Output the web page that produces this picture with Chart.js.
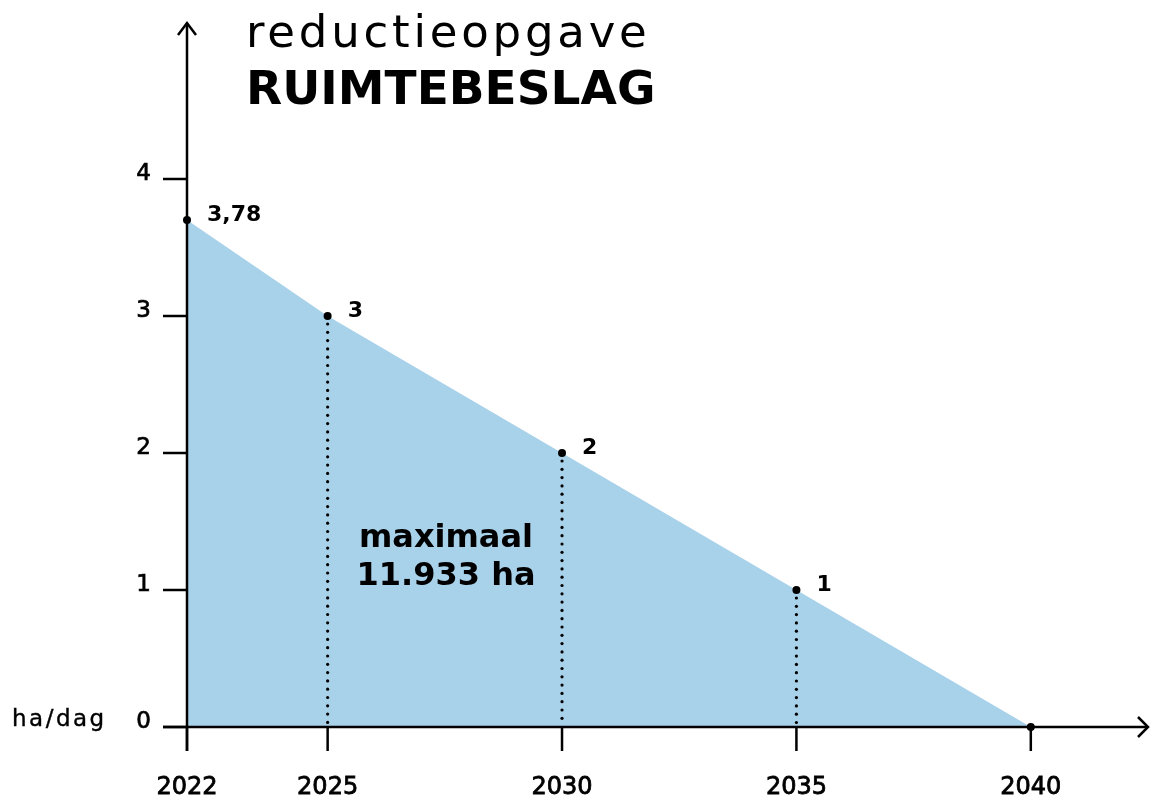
<!DOCTYPE html>
<html><head><meta charset="utf-8">
<script src="https://cdn.jsdelivr.net/npm/chart.js@4/dist/chart.umd.min.js"></script>
<style>html,body{margin:0;padding:0;background:#fff}#wrap{width:1153px;height:800px;position:relative}</style>
</head><body><div id="wrap"><canvas id="c" width="1153" height="800"></canvas></div>
<script>
const years = [2022, 2025, 2030, 2035, 2040];
const values = [3.7, 3, 2, 1, 0];
const pointLabels = ["3,78", "3", "2", "1", ""];
const xTickLabels = ["2022", "2025", "2030", "2035", "2040"];
const yTicks = [0, 1, 2, 3, 4];
const dottedYears = [2025, 2030, 2035];
const titleLine1 = "reductieopgave";
const titleLine2 = "RUIMTEBESLAG";
const yUnit = "ha/dag";
const noteLines = ["maximaal", "11.933 ha"];

const FONT = '"DejaVu Sans", sans-serif';

function txt(ctx, s, x, y, embolden) {
  ctx.fillText(s, x, y);
  if (embolden) { ctx.lineWidth = embolden; ctx.strokeText(s, x, y); }
}

const overlay = {
  id: 'overlay',
  afterDatasetsDraw(chart) {
    const ctx = chart.ctx, x = chart.scales.x, y = chart.scales.y;
    const x0 = x.getPixelForValue(2022), y0 = y.getPixelForValue(0);
    const top = chart.chartArea.top, right = chart.chartArea.right;
    ctx.save();
    ctx.fillStyle = '#000';
    // dotted verticals
    dottedYears.forEach(yr => {
      const i = years.indexOf(yr);
      const px = x.getPixelForValue(yr);
      const ptop = y.getPixelForValue(values[i]);
      for (let py = ptop + 8; py < y0 - 3; py += 8.3) {
        ctx.beginPath(); ctx.arc(px, py, 1.6, 0, Math.PI * 2); ctx.fill();
      }
    });
    ctx.strokeStyle = '#000'; ctx.lineWidth = 2.5; ctx.lineCap = 'butt';
    // y axis
    ctx.beginPath(); ctx.moveTo(x0, y0 + 24); ctx.lineTo(x0, top + 1); ctx.stroke();
    ctx.beginPath(); ctx.moveTo(x0 - 9, top + 13); ctx.lineTo(x0, top + 1); ctx.lineTo(x0 + 9, top + 13); ctx.stroke();
    // x axis
    ctx.beginPath(); ctx.moveTo(x0 - 24, y0); ctx.lineTo(right, y0); ctx.stroke();
    ctx.beginPath(); ctx.moveTo(right - 10, y0 - 10); ctx.lineTo(right, y0); ctx.lineTo(right - 10, y0 + 10); ctx.stroke();
    // y ticks
    yTicks.forEach(v => {
      const py = y.getPixelForValue(v);
      ctx.lineWidth = 2.5;
      ctx.beginPath(); ctx.moveTo(x0 - 24, py); ctx.lineTo(x0, py); ctx.stroke();
    });
    // x ticks
    years.forEach(yr => {
      const px = x.getPixelForValue(yr);
      ctx.lineWidth = 2.5;
      ctx.beginPath(); ctx.moveTo(px, y0); ctx.lineTo(px, y0 + 24); ctx.stroke();
    });
    // points
    const meta = chart.getDatasetMeta(0);
    meta.data.forEach(el => {
      ctx.beginPath(); ctx.arc(el.x, el.y, 4, 0, Math.PI * 2); ctx.fill();
    });
    // y tick labels
    ctx.font = '23px ' + FONT; ctx.textAlign = 'right'; ctx.textBaseline = 'middle';
    yTicks.forEach(v => {
      txt(ctx, String(v), x0 - 36, y.getPixelForValue(v) - 5, 0.7);
    });
    ctx.textAlign = 'left';
    ctx.letterSpacing = '2.5px';
    txt(ctx, yUnit, 12, y0 - 7, 0.4);
    ctx.letterSpacing = '0px';
    // x tick labels
    ctx.textAlign = 'center';
    ctx.font = '24px ' + FONT;
    years.forEach((yr, i) => {
      txt(ctx, xTickLabels[i], x.getPixelForValue(yr), y0 + 61, 0.8);
    });
    // point labels
    ctx.font = 'bold 22px ' + FONT; ctx.textAlign = 'left';
    years.forEach((yr, i) => {
      if (!pointLabels[i]) return;
      ctx.fillText(pointLabels[i], x.getPixelForValue(yr) + 20, y.getPixelForValue(values[i]) - 5);
    });
    // note
    ctx.font = 'bold 32px ' + FONT; ctx.textAlign = 'center';
    ctx.fillText(noteLines[0], 446, 539);
    ctx.fillText(noteLines[1], 446, 577);
    // title
    ctx.textAlign = 'left'; ctx.textBaseline = 'alphabetic';
    ctx.font = '45px ' + FONT;
    ctx.letterSpacing = '3.8px';
    ctx.fillText(titleLine1, 246, 47);
    ctx.font = 'bold 47px ' + FONT;
    ctx.letterSpacing = '0px';
    ctx.fillText(titleLine2, 246, 104);
    ctx.restore();
  }
};

new Chart(document.getElementById('c'), {
  type: 'line',
  data: {
    datasets: [{
      data: years.map((yr, i) => ({x: yr, y: values[i]})),
      fill: 'origin',
      backgroundColor: '#a8d1ea',
      borderWidth: 0,
      borderColor: 'rgba(0,0,0,0)',
      pointRadius: 0,
      tension: 0
    }]
  },
  options: {
    responsive: false,
    animation: false,
    layout: {padding: {left: 187, right: 5, top: 22, bottom: 73}},
    plugins: {legend: {display: false}, tooltip: {enabled: false}},
    scales: {
      x: {type: 'linear', min: 2022, max: 2042.5, display: false},
      y: {min: 0, max: 5.146, display: false}
    }
  },
  plugins: [overlay]
});
</script></body></html>
